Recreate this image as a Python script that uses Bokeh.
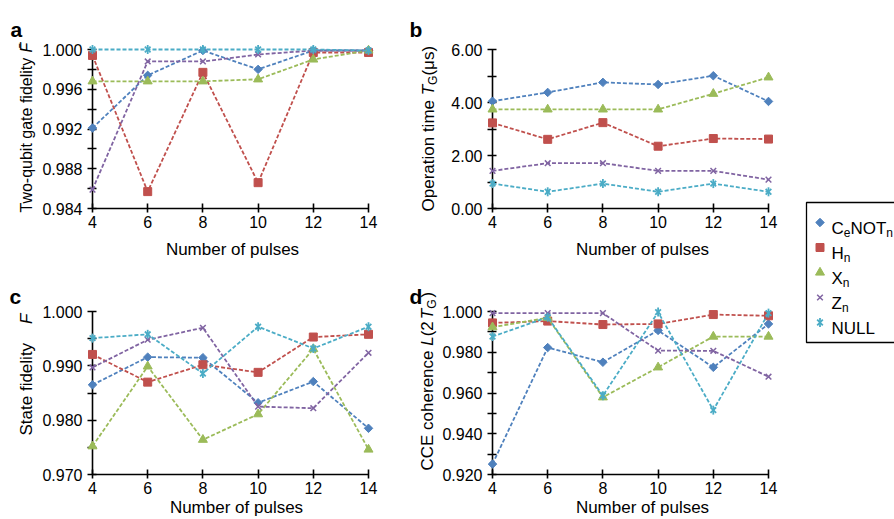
from math import pi
from bokeh.plotting import figure
from bokeh.layouts import row, column
from bokeh.models import Range1d, FixedTicker, NumeralTickFormatter
from bokeh.core.properties import value
from bokeh.embed import file_html
from bokeh.resources import INLINE

# ---------------- data ----------------
pulses = [4, 6, 8, 10, 12, 14]
series = ["CeNOTn", "Hn", "Xn", "Zn", "NULL"]
colors = ["#4F81BD", "#C0504D", "#9BBB59", "#8064A2", "#4BACC6"]

# a: two-qubit gate fidelity
a_cenot = [0.9921, 0.9974, 0.9999, 0.9980, 0.9999, 0.9999]
a_h = [0.9994, 0.9857, 0.9977, 0.9866, 0.9997, 0.9997]
a_x = [0.9968, 0.9968, 0.9968, 0.9970, 0.9990, 0.9999]
a_z = [0.9859, 0.9988, 0.9988, 0.9995, 0.9999, 0.9999]
a_null = [1.0000, 1.0000, 1.0000, 1.0000, 1.0000, 0.9999]

# b: operation time (us)
b_cenot = [4.05, 4.38, 4.76, 4.68, 5.01, 4.04]
b_h = [3.23, 2.61, 3.24, 2.35, 2.64, 2.62]
b_x = [3.74, 3.74, 3.74, 3.74, 4.33, 4.95]
b_z = [1.42, 1.71, 1.71, 1.42, 1.42, 1.09]
b_null = [0.94, 0.63, 0.94, 0.63, 0.94, 0.63]

# c: state fidelity
c_cenot = [0.9865, 0.9916, 0.9915, 0.9832, 0.9871, 0.9785]
c_h = [0.9921, 0.9870, 0.9902, 0.9888, 0.9953, 0.9958]
c_x = [0.9752, 0.9899, 0.9764, 0.9811, 0.9931, 0.9746]
c_z = [0.9897, 0.9948, 0.9970, 0.9825, 0.9822, 0.9924]
c_null = [0.9951, 0.9958, 0.9886, 0.9972, 0.9932, 0.9972]

# d: CCE coherence
d_cenot = [0.9251, 0.9823, 0.9751, 0.9907, 0.9726, 0.9939]
d_h = [0.9944, 0.9953, 0.9936, 0.9939, 0.9985, 0.9979]
d_x = [0.9923, 0.9969, 0.9579, 0.9726, 0.9877, 0.9877]
d_z = [0.9992, 0.9992, 0.9992, 0.9808, 0.9807, 0.9680]
d_null = [0.9877, 0.9972, 0.9587, 0.9997, 0.9516, 0.9992]

a_ticks = [0.984, 0.988, 0.992, 0.996, 1.000]
a_minor = [0.986, 0.990, 0.994, 0.998]
b_ticks = [0.0, 2.0, 4.0, 6.0]
b_minor = [1.0, 3.0, 5.0]
c_ticks = [0.970, 0.980, 0.990, 1.000]
c_minor = [0.975, 0.985, 0.995]
d_ticks = [0.920, 0.940, 0.960, 0.980, 1.000]
d_minor = [0.930, 0.950, 0.970, 0.990]

FONT = "Liberation Sans"

# Arial/Liberation Sans advance widths (per em)
W = {" ": .278, "(": .333, ")": .333, "-": .333, ".": .278, "2": .556,
     "C": .722, "E": .667, "F": .611, "G": .778, "H": .722, "L": .556, "N": .722,
     "O": .778, "S": .667, "T": .611, "U": .722, "X": .667, "Z": .611,
     "a": .556, "b": .556, "c": .5, "d": .556, "e": .556, "f": .278, "g": .556,
     "h": .556, "i": .222, "l": .222, "m": .833, "n": .556, "o": .556, "p": .556,
     "q": .556, "r": .333, "s": .5, "t": .278, "u": .556, "w": .722, "y": .5,
     "\u03bc": .576, "\u0304": 0.0}


def tw(text, size):
    return sum(W.get(ch, .556) for ch in text) * size


XS = 27.6  # px per pulse unit


class Geo:
    """canvas-pixel -> data mapping of one panel (frame bottom-left at pixel (fl, fb))."""
    def __init__(self, fl, fb, y0, ypx):
        self.fl, self.fb, self.y0, self.ypx = fl, fb, y0, ypx

    def x(self, px):
        return 4 + (px - self.fl) / XS

    def y(self, py):
        return self.y0 + (self.fb - py) / self.ypx


class Ident:
    def x(self, px):
        return px

    def y(self, py):
        return py


def add_text(p, g, px, py, text, size, style="normal", angle=0.0, align="left"):
    r = p.text(x=[g.x(px)], y=[g.y(py)], text=[text], angle=angle,
               text_font=value(FONT), text_font_size=value(f"{size}px"),
               text_font_style=style, text_align=align, text_baseline="alphabetic",
               text_color="black")
    r.level = "overlay"


def add_rich(p, g, x0, y0, pieces, vertical):
    """pieces: (text, size, style, baseline shift, extra advance after)"""
    cur = 0.0
    for text, size, style, shift, gap in pieces:
        if vertical:
            add_text(p, g, x0 + shift, y0 - cur, text, size, style, angle=pi / 2)
        else:
            add_text(p, g, x0 + cur, y0 + shift, text, size, style)
        cur += tw(text, size) + gap


def draw_marker(p, x, y, idx):
    c = colors[idx]
    rs = []
    if idx == 0:
        rs.append(p.scatter(x, y, marker="square", angle=pi / 4, size=6, fill_color=c, line_color=c))
    elif idx == 1:
        rs.append(p.scatter(x, y, marker="square", size=8, fill_color=c, line_color=c))
    elif idx == 2:
        rs.append(p.scatter(x, y, marker="triangle", size=9, fill_color=c, line_color=c))
    elif idx == 3:
        rs.append(p.scatter(x, y, marker="x", size=8, line_color=c, line_width=1.5))
    else:
        rs.append(p.scatter(x, y, marker="x", size=8, line_color=c, line_width=1.8))
        rs.append(p.scatter(x, y, marker="dash", angle=pi / 2, size=9, line_color=c, line_width=1.8))
    for r in rs:
        r.level = "overlay"


def panel(ys, y0, ytop, ypx, ticks, minor, fmt, bl, br, bt, bb, fw, fh):
    p = figure(width=bl + fw + br, height=bt + fh + bb,
               x_range=Range1d(4, 14 + 8 / XS), y_range=Range1d(y0, ytop + 8 / ypx),
               output_backend="svg", toolbar_location=None,
               min_border_left=bl, min_border_right=br, min_border_top=bt, min_border_bottom=bb)
    p.outline_line_color = None
    p.xgrid.visible = False
    p.ygrid.visible = False
    p.background_fill_color = "white"
    p.border_fill_color = "white"
    xa = p.xaxis[0]
    xa.ticker = FixedTicker(ticks=pulses)
    xa.bounds = (4, 14)
    xa.major_tick_in = 5
    xa.major_tick_out = 4
    xa.minor_tick_in = 0
    xa.minor_tick_out = 0
    xa.major_label_standoff = 3
    ya = p.yaxis[0]
    ya.ticker = FixedTicker(ticks=ticks, minor_ticks=minor)
    ya.bounds = (y0, ytop)
    ya.formatter = NumeralTickFormatter(format=fmt)
    ya.major_tick_in = 4
    ya.major_tick_out = 5
    ya.minor_tick_in = 4
    ya.minor_tick_out = 5
    ya.major_label_standoff = 5
    for ax in (xa, ya):
        ax.axis_line_color = "black"
        ax.axis_line_width = 1.6
        ax.major_tick_line_color = "black"
        ax.major_tick_line_width = 1.6
        ax.minor_tick_line_color = "black"
        ax.minor_tick_line_width = 1.6
        ax.major_label_text_font = FONT
        ax.major_label_text_font_size = "16px"
        ax.major_label_text_color = "black"
    for i, y in enumerate(ys):
        r = p.line(pulses, y, line_color=colors[i], line_width=1.8, line_dash="4 2")
        r.level = "overlay"
        draw_marker(p, pulses, y, i)
    return p


# panel a : frame left/bottom at pixel (92, 208)
ga = Geo(92, 208, 0.984, 9937.5)
fa = panel([a_cenot, a_h, a_x, a_z, a_null], 0.984, 1.000, 9937.5, a_ticks, a_minor, "0.000",
           92, 24, 41, 52, 284, 167)
add_text(fa, ga, 10, 29, "a", 21, "bold")
add_rich(fa, ga, 26, 212, [("Two-qubit gate fidelity ", 16, "normal", 0, 0),
                           ("F\u0304", 16, "italic", 0, 0)], True)
add_text(fa, ga, 232, 249, "Number of pulses", 17, align="center")

# panel b : frame left/bottom at pixel (492, 208)
gb = Geo(492, 208, 0.0, 26.5)
fb = panel([b_cenot, b_h, b_x, b_z, b_null], 0.0, 6.0, 26.5, b_ticks, b_minor, "0.00",
           92, 24, 41, 52, 284, 167)
add_text(fb, gb, 409, 29, "b", 21, "bold")
add_rich(fb, gb, 428, 211, [("Operation time ", 17, "normal", 0, 0),
                            ("T", 17, "italic", 0, 0),
                            ("G", 12, "normal", 4, 0),
                            (" (\u03bcs)", 17, "normal", 0, 0)], True)
add_text(fb, gb, 642, 249, "Number of pulses", 17, align="center")

# panel c : frame left/bottom at pixel (92, 474)
gc = Geo(92, 474, 0.970, 5433.3)
fc = panel([c_cenot, c_h, c_x, c_z, c_null], 0.970, 1.000, 5433.3, c_ticks, c_minor, "0.000",
           92, 24, 43, 45, 284, 171)
add_text(fc, gc, 9, 296, "c", 21, "bold")
add_rich(fc, gc, 26, 435, [("State fidelity", 17, "normal", 0, 19),
                           ("F", 17, "italic", 0, 0)], True)
add_text(fc, gc, 236, 507, "Number of pulses", 17, align="center")

# panel d : frame left/bottom at pixel (492, 474)
gd = Geo(492, 474, 0.920, 2037.5)
fd = panel([d_cenot, d_h, d_x, d_z, d_null], 0.920, 1.000, 2037.5, d_ticks, d_minor, "0.000",
           92, 24, 43, 45, 284, 171)
add_text(fd, gd, 409, 296, "d", 21, "bold")
add_rich(fd, gd, 427, 470, [("CCE coherence ", 17, "normal", 0, 0),
                            ("L", 17, "italic", 0, 0),
                            ("(2", 17, "normal", 0, 2),
                            ("T", 17, "italic", 0, 0),
                            ("G", 12, "normal", 4, 2),
                            (")", 17, "normal", 0, 0)], True)
add_text(fd, gd, 642, 507, "Number of pulses", 17, align="center")

# legend panel (data coords == canvas pixels)
LX0 = 800
fl = figure(width=894 - LX0, height=519, x_range=Range1d(LX0, 894), y_range=Range1d(519, 0),
            output_backend="svg", toolbar_location=None, min_border=0,
            x_axis_location=None, y_axis_location=None)
fl.outline_line_color = None
fl.xgrid.visible = False
fl.ygrid.visible = False
BOX_L = 806
fl.quad(left=[BOX_L], right=[940], top=[202], bottom=[342], fill_color=None,
        line_color="black", line_width=1.3)
leg_y = [222, 247, 272, 297, 322]
for i in range(5):
    draw_marker(fl, [BOX_L + 13.5], [leg_y[i]], i)
leg_pieces = [
    [("C", 17, "normal", 0, 0), ("e", 12, "normal", 4, 0), ("NOT", 17, "normal", 0, 0), ("n", 12, "normal", 4, 0)],
    [("H", 17, "normal", 0, 0), ("n", 12, "normal", 4, 0)],
    [("X", 17, "normal", 0, 0), ("n", 12, "normal", 4, 0)],
    [("Z", 17, "normal", 0, 0), ("n", 12, "normal", 4, 0)],
    [("NULL", 17, "normal", 0, 0)],
]
idg = Ident()
for i, pcs in enumerate(leg_pieces):
    add_rich(fl, idg, BOX_L + 25, leg_y[i] + 6, pcs, False)

layout = row(column(fa, fc), column(fb, fd), fl)
open("out.html", "w").write(file_html(layout, INLINE))
